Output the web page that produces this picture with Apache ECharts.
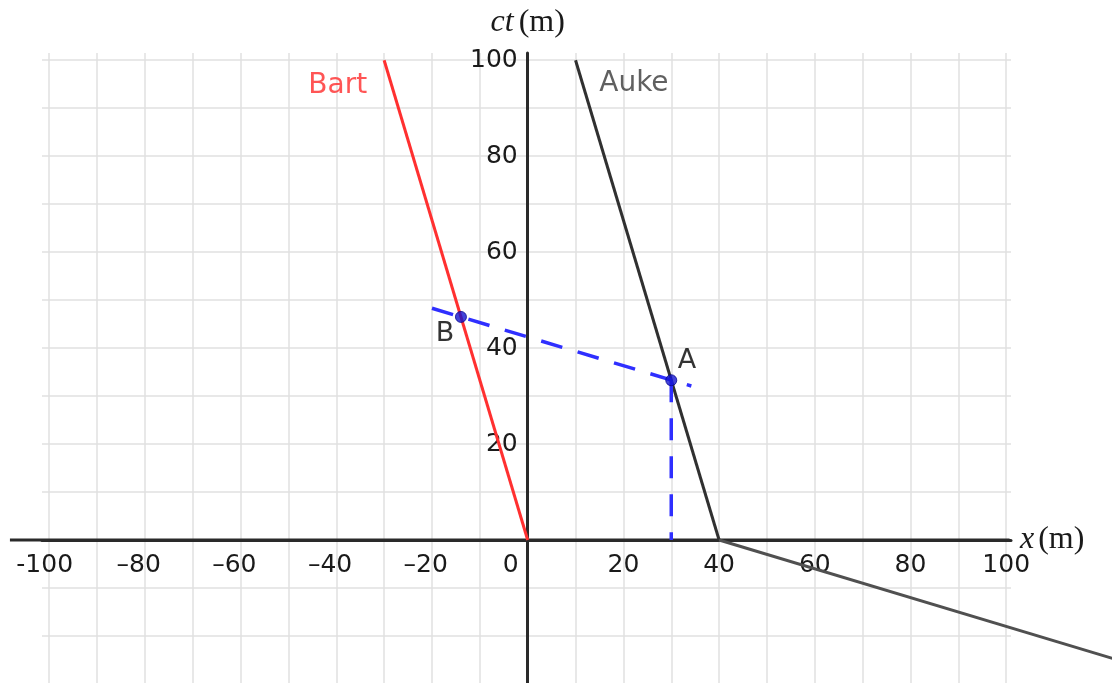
<!DOCTYPE html>
<html>
<head>
<meta charset="utf-8">
<script src="https://cdn.jsdelivr.net/npm/echarts@6/dist/echarts.min.js"></script>
<style>
html,body{margin:0;padding:0;background:#fff;}
#chart{width:1112px;height:683px;}
</style>
</head>
<body>
<div id="chart"></div>
<script>
// ---- data ----
const xTicks = [-100, -80, -60, -40, -20, 0, 20, 40, 60, 80, 100];
const xTickLabels = ['-100', '–80', '–60', '–40', '–20', '0', '20', '40', '60', '80', '100'];
const yTicks = [20, 40, 60, 80, 100];
const yTickLabels = ['20', '40', '60', '80', '100'];
const xRange = [-101.5, 101];
const yRange = [-30, 101.5];
const xAxisLineExtent = [[-108.2, 0], [100.7, 0]];
const bart = [[-30, 100], [0, 0]];
const aukeUpper = [[10, 100], [40, 0]];
const aukeLower = [[40, 0], [125, -25.5]];
const simultaneity = [[-20, 48.3], [34.2, 32.1]];
const dropLine = [[30, 33.3], [30, 0]];
const events = [[30, 33.3], [-13.95, 46.5]];
const eventNames = ['A', 'B'];
const eventLabelPos = [[33.3, 37.3], [-17.3, 43.0]];
const worldlineNames = ['Bart', 'Auke'];
const worldlineLabelPos = [[-39.7, 94.6], [22.2, 95.0]];

// ---- layout ----
const W = 1112, H = 683;
const G = {left: 42, top: 53, width: 969, height: 631};
const pxX = G.width / (xRange[1] - xRange[0]);
const pxY = G.height / (yRange[1] - yRange[0]);
// overlay grid covering the whole canvas with the same scale
const ovX = [xRange[0] - G.left / pxX, xRange[0] - G.left / pxX + W / pxX];
const ovYmax = yRange[1] + G.top / pxY;
const ovY = [ovYmax - H / pxY, ovYmax];
const xAxisOffset = -(0 - yRange[0]) * pxY;  // move bottom x axis up to ct = 0
const yAxisOffset = -(0 - xRange[0]) * pxX;  // move left y axis right to x = 0

const chart = echarts.init(document.getElementById('chart'), null, {renderer: 'canvas'});

function findIdx(arr, v) { return arr.findIndex(t => Math.abs(t - v) < 1e-6); }

const sans = 'DejaVu Sans';
const serif = 'Liberation Serif';
const ink = '#1a1a1a';

const option = {
  animation: false,
  backgroundColor: '#ffffff',
  grid: [
    {left: G.left, top: G.top, width: G.width, height: G.height, containLabel: false, outerBoundsMode: 'none'},
    {left: 0, top: 0, width: W, height: H, containLabel: false, outerBoundsMode: 'none'}
  ],
  xAxis: [{
    gridIndex: 0, type: 'value', min: xRange[0], max: xRange[1],
    splitNumber: 20, minInterval: 10, maxInterval: 10,
    position: 'bottom', offset: xAxisOffset,
    axisLine: {show: true, onZero: false, lineStyle: {color: '#2a2a2a', width: 3}},
    axisTick: {show: false},
    splitLine: {show: true, showMinLine: false, showMaxLine: false, lineStyle: {color: '#e0e0e0', width: 1.5}},
    axisLabel: {
      margin: 13,
      showMinLabel: true, showMaxLabel: true,
      formatter: function (v) {
        const i = findIdx(xTicks, v);
        if (i < 0) return '';
        const s = xTickLabels[i];
        if (Math.abs(v) < 1e-6) return '{z|' + s + '}';
        if (v < 0) return '{d|' + s + '}{g|' + s[0] + '}';
        return '{d|' + s + '}';
      },
      rich: {
        d: {fontFamily: sans, fontSize: 25, color: ink},
        g: {fontFamily: sans, fontSize: 25, color: 'rgba(0,0,0,0)'},
        z: {fontFamily: sans, fontSize: 25, color: ink, padding: [0, 34, 0, 0]}
      }
    },
    name: '{i|x}{r|(m)}',
    nameLocation: 'end',
    nameGap: 9,
    nameMoveOverlap: false,
    nameTextStyle: {
      rich: {
        i: {fontFamily: serif, fontStyle: 'italic', fontSize: 32, color: ink, padding: [0, 4, 0, 0]},
        r: {fontFamily: serif, fontSize: 32, color: ink}
      }
    }
  }, {
    gridIndex: 1, type: 'value', min: ovX[0], max: ovX[1], show: false,
    splitLine: {show: false}
  }],
  yAxis: [{
    gridIndex: 0, type: 'value', min: yRange[0], max: yRange[1],
    splitNumber: 13, minInterval: 10, maxInterval: 10,
    position: 'left', offset: yAxisOffset,
    axisLine: {show: true, onZero: false, lineStyle: {color: '#2a2a2a', width: 3}},
    axisTick: {show: false},
    splitLine: {show: true, showMinLine: false, showMaxLine: false, lineStyle: {color: '#e0e0e0', width: 1.5}},
    axisLabel: {
      margin: 10,
      fontFamily: sans, fontSize: 25, color: ink,
      formatter: function (v) {
        const i = findIdx(yTicks, v);
        return i < 0 ? '' : yTickLabels[i];
      }
    },
    name: '{i|ct}{r|(m)}',
    nameLocation: 'end',
    nameGap: 14,
    nameMoveOverlap: false,
    nameTextStyle: {
      rich: {
        i: {fontFamily: serif, fontStyle: 'italic', fontSize: 32, color: ink, padding: [0, 5, 0, 0]},
        r: {fontFamily: serif, fontSize: 32, color: ink}
      }
    }
  }, {
    gridIndex: 1, type: 'value', min: ovY[0], max: ovY[1], show: false,
    splitLine: {show: false}
  }],
  series: [
    {
      name: 'xaxis-ext', type: 'line', xAxisIndex: 1, yAxisIndex: 1, data: xAxisLineExtent,
      symbol: 'none', z: 3, lineStyle: {color: '#2a2a2a', width: 3}, silent: true
    },
    {
      name: 'Bart', type: 'line', xAxisIndex: 1, yAxisIndex: 1, data: bart, symbol: 'none', z: 4,
      lineStyle: {color: '#ff3030', width: 3}
    },
    {
      name: 'Auke', type: 'line', xAxisIndex: 1, yAxisIndex: 1, data: aukeUpper, symbol: 'none', z: 4,
      lineStyle: {color: '#303030', width: 3}
    },
    {
      name: 'Auke-past', type: 'line', xAxisIndex: 1, yAxisIndex: 1, data: aukeLower, symbol: 'none', z: 4,
      lineStyle: {color: '#505050', width: 3}
    },
    {
      name: 'simultaneity', type: 'line', xAxisIndex: 1, yAxisIndex: 1, data: simultaneity, symbol: 'none', z: 5,
      lineStyle: {color: '#2f2fff', width: 3.5, type: [22, 16]}
    },
    {
      name: 'drop', type: 'line', xAxisIndex: 1, yAxisIndex: 1, data: dropLine, symbol: 'none', z: 5,
      lineStyle: {color: '#2f2fff', width: 3.5, type: [22, 16]}
    },
    {
      name: 'events', type: 'scatter', xAxisIndex: 1, yAxisIndex: 1, data: events, z: 6,
      symbolSize: 11,
      itemStyle: {color: '#1414d0', borderColor: '#0a0a90', borderWidth: 1}
    },
    {
      name: 'eventLabels', type: 'scatter', xAxisIndex: 1, yAxisIndex: 1, z: 7, symbolSize: 1,
      itemStyle: {color: 'rgba(0,0,0,0)'},
      data: eventLabelPos.map((p, i) => ({value: p, name: eventNames[i]})),
      label: {show: true, position: 'inside', formatter: '{b}', fontFamily: sans, fontSize: 27, color: '#000'}
    },
    {
      name: 'worldlineLabels', type: 'scatter', xAxisIndex: 1, yAxisIndex: 1, z: 7, symbolSize: 1,
      itemStyle: {color: 'rgba(0,0,0,0)'},
      data: worldlineLabelPos.map((p, i) => ({
        value: p, name: worldlineNames[i],
        label: {color: i === 0 ? '#ff2a2a' : '#383838'}
      })),
      label: {show: true, position: 'inside', formatter: '{b}', fontFamily: sans, fontSize: 28}
    }
  ]
};
chart.setOption(option);
</script>
</body>
</html>
